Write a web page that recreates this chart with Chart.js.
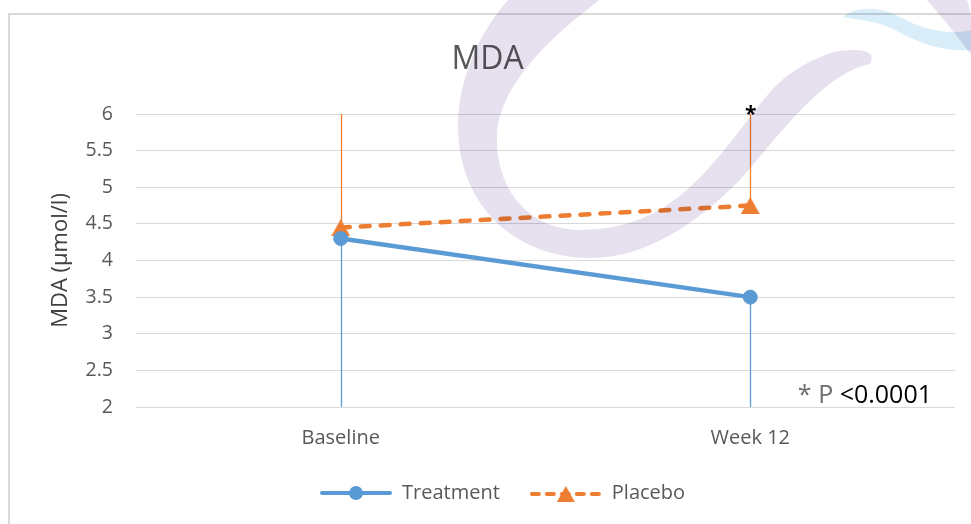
<!DOCTYPE html>
<html>
<head>
<meta charset="utf-8">
<script src="https://cdn.jsdelivr.net/npm/chart.js@4.4.1/dist/chart.umd.min.js"></script>
<style>
  html, body { margin: 0; padding: 0; background: #ffffff; }
  canvas { display: block; }
</style>
</head>
<body>
<canvas id="chart" width="971" height="524"></canvas>
<script>
// MDA levels per group (mean, one-sided SD bars)
const categories = ['Baseline', 'Week 12'];
const treatment = [4.3, 3.5];
const placebo = [4.45, 4.75];
const treatmentSD = [2.3, 1.5];   // drawn downward
const placeboSD = [1.55, 1.25];   // drawn upward
const yTicks = [2, 2.5, 3, 3.5, 4, 4.5, 5, 5.5, 6];
const significance = ['', '*'];
const pNote = ['* P ', '<0.0001'];

const BLUE = '#5B9BD5';
const ORANGE = '#ED7D31';
const FONT = "'Open Sans', 'Liberation Sans', sans-serif";

// marker and legend glyphs
function triangleImage(w, h, color) {
  const c = document.createElement('canvas');
  c.width = w; c.height = h;
  const g = c.getContext('2d');
  g.fillStyle = color;
  g.beginPath();
  g.moveTo(w / 2, 0);
  g.lineTo(w, h);
  g.lineTo(0, h);
  g.closePath();
  g.fill();
  return c;
}
function legendSolid() {
  const c = document.createElement('canvas');
  c.width = 72; c.height = 20;
  const g = c.getContext('2d');
  g.strokeStyle = BLUE; g.lineWidth = 4; g.lineCap = 'round';
  g.beginPath(); g.moveTo(2, 10); g.lineTo(70, 10); g.stroke();
  g.fillStyle = BLUE;
  g.beginPath(); g.arc(36, 10, 7, 0, Math.PI * 2); g.fill();
  return c;
}
function legendDashed() {
  const c = document.createElement('canvas');
  c.width = 72; c.height = 20;
  const g = c.getContext('2d');
  g.strokeStyle = ORANGE; g.lineWidth = 4; g.lineCap = 'round';
  g.setLineDash([7, 8]);
  g.beginPath(); g.moveTo(2, 11); g.lineTo(72, 11); g.stroke();
  g.drawImage(triangleImage(18, 16, ORANGE), 27, 3);
  return c;
}
const triMarker = triangleImage(19, 17, ORANGE);
const legendGlyphs = [legendSolid(), legendDashed()];

const background = {
  id: 'background',
  beforeDraw(chart) {
    const { ctx, width, height } = chart;
    ctx.save();
    ctx.fillStyle = '#ffffff';
    ctx.fillRect(0, 0, width, height);
    ctx.strokeStyle = '#d9d9d9';
    ctx.lineWidth = 2;
    ctx.beginPath();
    ctx.moveTo(9, height);
    ctx.lineTo(9, 14);
    ctx.lineTo(width, 14);
    ctx.stroke();
    ctx.restore();
  }
};

const errorBars = {
  id: 'errorBars',
  beforeDatasetsDraw(chart) {
    const { ctx, chartArea, scales: { x, y } } = chart;
    ctx.save();
    ctx.beginPath();
    ctx.rect(chartArea.left, chartArea.top, chartArea.width, chartArea.height);
    ctx.clip();
    chart.data.datasets.forEach((ds) => {
      ctx.strokeStyle = ds.borderColor;
      ctx.lineWidth = 1.3;
      ds.data.forEach((v, j) => {
        const px = Math.round(x.getPixelForValue(j)) + 0.5;
        ctx.beginPath();
        ctx.moveTo(px, y.getPixelForValue(v));
        ctx.lineTo(px, y.getPixelForValue(v + ds.errorDir * ds.errors[j]));
        ctx.stroke();
      });
    });
    ctx.restore();
  }
};

const annotations = {
  id: 'annotations',
  afterDatasetsDraw(chart) {
    const { ctx, chartArea, scales: { x, y } } = chart;
    ctx.save();
    // significance marks above the placebo bars
    ctx.fillStyle = '#000000';
    ctx.font = 'bold 21px ' + FONT;
    ctx.textAlign = 'center';
    ctx.textBaseline = 'alphabetic';
    significance.forEach((s, j) => {
      if (!s) return;
      ctx.fillText(s, x.getPixelForValue(j) + 0.5, y.getPixelForValue(y.max) + 7);
    });
    // p-value note
    ctx.font = '25px ' + FONT;
    ctx.textAlign = 'left';
    const w0 = ctx.measureText(pNote[0]).width;
    const w1 = ctx.measureText(pNote[1]).width;
    const x0 = chartArea.right - 23 - w0 - w1;
    const by = chartArea.bottom - 4;
    ctx.fillStyle = '#6f6f6f';
    ctx.fillText(pNote[0], x0, by);
    ctx.fillStyle = '#000000';
    ctx.fillText(pNote[1], x0 + w0, by);
    ctx.restore();
  }
};

// faint logo artwork laid over the sheet
const logoOverlay = {
  id: 'logoOverlay',
  afterDraw(chart) {
    const { ctx } = chart;
    ctx.save();
    ctx.globalCompositeOperation = 'multiply';
    ctx.fillStyle = '#e6e0ef';
    ctx.beginPath();
    ctx.moveTo(510, -2);
    ctx.bezierCurveTo(480, 30, 458, 80, 458, 125);
    ctx.bezierCurveTo(458, 210, 520, 258, 590, 258);
    ctx.bezierCurveTo(645, 258, 695, 225, 740, 180);
    ctx.bezierCurveTo(775, 140, 800, 105, 835, 80);
    ctx.bezierCurveTo(850, 70, 860, 66, 870, 64);
    ctx.quadraticCurveTo(880, 45, 833, 52);
    ctx.bezierCurveTo(805, 62, 785, 75, 770, 92);
    ctx.bezierCurveTo(745, 122, 720, 160, 690, 187);
    ctx.bezierCurveTo(660, 215, 625, 230, 578, 230);
    ctx.bezierCurveTo(525, 228, 495, 185, 497, 135);
    ctx.bezierCurveTo(500, 80, 560, 30, 602, -2);
    ctx.closePath();
    ctx.fill();
    // small purple piece at the top right
    ctx.beginPath();
    ctx.moveTo(925, -2);
    ctx.lineTo(966, -2);
    ctx.bezierCurveTo(972, 10, 972, 30, 972, 56);
    ctx.bezierCurveTo(960, 40, 945, 20, 925, -2);
    ctx.closePath();
    ctx.fill();
    // light blue swoosh
    ctx.fillStyle = '#d9eef8';
    ctx.beginPath();
    ctx.moveTo(843, 17);
    ctx.bezierCurveTo(855, 6, 880, 6, 900, 17);
    ctx.bezierCurveTo(920, 28, 945, 36, 972, 30);
    ctx.lineTo(972, 50);
    ctx.bezierCurveTo(945, 52, 920, 44, 895, 30);
    ctx.bezierCurveTo(875, 20, 858, 20, 843, 17);
    ctx.closePath();
    ctx.fill();
    ctx.restore();
  }
};

const boxPlacement = {
  id: 'boxPlacement',
  afterLayout(chart) {
    const lg = chart.legend;
    const dx = 290 - lg.left;
    lg.left += dx;
    lg.right += dx;
    const tb = chart.titleBlock;
    tb.left += 10;
    tb.right += 10;
  }
};

new Chart(document.getElementById('chart'), {
  type: 'line',
  data: {
    labels: categories,
    datasets: [
      {
        label: 'Treatment',
        data: treatment,
        errors: treatmentSD,
        errorDir: -1,
        borderColor: BLUE,
        backgroundColor: BLUE,
        borderWidth: 4.5,
        pointStyle: 'circle',
        pointRadius: 7,
        pointBorderWidth: 1,
        pointBackgroundColor: BLUE,
        pointBorderColor: BLUE,
        tension: 0
      },
      {
        label: 'Placebo',
        data: placebo,
        errors: placeboSD,
        errorDir: 1,
        borderColor: ORANGE,
        backgroundColor: ORANGE,
        borderWidth: 4.5,
        borderDash: [9, 11],
        borderCapStyle: 'round',
        pointStyle: triMarker,
        pointRadius: 9,
        tension: 0
      }
    ]
  },
  options: {
    responsive: false,
    animation: false,
    devicePixelRatio: 1,
    layout: { padding: { top: 0, left: 0, right: 16, bottom: 11 } },
    plugins: {
      title: {
        display: true,
        text: 'MDA',
        color: '#595959',
        font: { family: FONT, size: 32, weight: 'normal' },
        padding: { top: 41, bottom: 34.6 }
      },
      legend: {
        display: true,
        position: 'bottom',
        align: 'start',
        labels: {
          usePointStyle: true,
          pointStyleWidth: 72,
          padding: 30,
          color: '#595959',
          font: { family: FONT, size: 20 },
          generateLabels(chart) {
            return chart.data.datasets.map((ds, i) => ({
              text: ds.label,
              pointStyle: legendGlyphs[i],
              fillStyle: ds.borderColor,
              strokeStyle: ds.borderColor,
              lineWidth: 0,
              hidden: false,
              datasetIndex: i,
              fontColor: '#595959'
            }));
          }
        }
      },
      tooltip: { enabled: false }
    },
    scales: {
      x: {
        offset: true,
        grid: { display: false, drawTicks: false },
        border: { display: false },
        ticks: { color: '#595959', font: { family: FONT, size: 20 }, padding: 19 },
        afterFit(s) { s.height = 46; }
      },
      y: {
        min: 2,
        max: 6,
        grid: { color: '#d9d9d9', lineWidth: 1, drawTicks: false },
        border: { display: false },
        ticks: {
          color: '#595959',
          font: { family: FONT, size: 19.5 },
          padding: 23,
          callback: (v) => String(v)
        },
        afterBuildTicks(s) { s.ticks = yTicks.map((v) => ({ value: v })); },
        title: {
          display: true,
          text: 'MDA (µmol/l)',
          color: '#404040',
          font: { family: FONT, size: 22 },
          padding: { top: 48, bottom: 0 }
        },
        afterFit(s) { s.width = 136; }
      }
    }
  },
  plugins: [background, errorBars, annotations, logoOverlay, boxPlacement]
});
</script>
</body>
</html>
